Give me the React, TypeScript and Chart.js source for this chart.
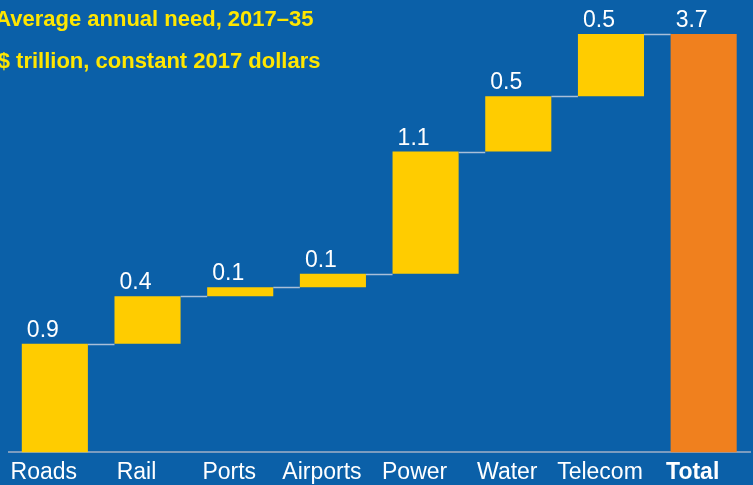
import React, { useEffect, useRef } from "react";
import { Chart, registerables } from "chart.js";

Chart.register(...registerables);

const categories = ["Roads", "Rail", "Ports", "Airports", "Power", "Water", "Telecom", "Total"];
const increments = [0.96, 0.42, 0.08, 0.12, 1.08, 0.49, 0.55];
const totalValue = 3.7;
const valueLabels = ["0.9", "0.4", "0.1", "0.1", "1.1", "0.5", "0.5", "3.7"];
const titleLines = ["Average annual need, 2017–35", "$ trillion, constant 2017 dollars"];

const BG = "#0B60A8";
const YELLOW = "#FFCC00";
const ORANGE = "#F0801E";
const TITLE_YELLOW = "#FFE600";
const FONT = "'Liberation Sans', Arial, sans-serif";

export default function App() {
  const ref = useRef<HTMLCanvasElement | null>(null);

  useEffect(() => {
    if (!ref.current) return;
    const floating: [number, number][] = [];
    let cum = 0;
    increments.forEach((v) => {
      floating.push([cum, cum + v]);
      cum += v;
    });
    floating.push([0, totalValue]);
    const ends = floating.map((f) => f[1]);

    const overlay = {
      id: "overlay",
      afterDatasetsDraw(chart: any) {
        const ctx = chart.ctx;
        const meta = chart.getDatasetMeta(0);
        const y = chart.scales.y;
        ctx.save();
        // connectors
        ctx.strokeStyle = "#A9BFD8";
        ctx.lineWidth = 1.5;
        for (let i = 0; i < meta.data.length - 1; i++) {
          const a = meta.data[i];
          const b = meta.data[i + 1];
          const py = Math.round(y.getPixelForValue(ends[i])) + 0.5;
          ctx.beginPath();
          ctx.moveTo(a.x + a.width / 2, py);
          ctx.lineTo(b.x - b.width / 2, py);
          ctx.stroke();
        }
        // value labels
        ctx.fillStyle = "#FFFFFF";
        ctx.font = `23px ${FONT}`;
        ctx.textAlign = "center";
        ctx.textBaseline = "alphabetic";
        meta.data.forEach((el: any, i: number) => {
          const top = y.getPixelForValue(ends[i]);
          ctx.fillText(valueLabels[i], el.x - 12, top - 7);
        });
        // titles
        ctx.fillStyle = TITLE_YELLOW;
        ctx.font = `bold 22px ${FONT}`;
        ctx.textAlign = "right";
        ctx.fillText(titleLines[0], 313.5, 26);
        ctx.fillText(titleLines[1], 320.5, 68);
        ctx.restore();
      },
    };

    const chart = new Chart(ref.current, {
      type: "bar",
      data: {
        labels: categories,
        datasets: [
          {
            data: floating as any,
            backgroundColor: categories.map((_, i) => (i === categories.length - 1 ? ORANGE : YELLOW)),
            borderWidth: 0,
            borderSkipped: false,
            barPercentage: 0.713,
            categoryPercentage: 1,
          },
        ],
      },
      options: {
        responsive: false,
        animation: false,
        layout: { padding: { left: 8.5, right: 3, top: 0, bottom: 2 } },
        plugins: { legend: { display: false }, tooltip: { enabled: false }, title: { display: false } },
        scales: {
          x: {
            grid: { display: false, drawTicks: false },
            border: { display: true, color: "#7C9CBF", width: 2 },
            ticks: {
              color: "#FFFFFF",
              autoSkip: false,
              maxRotation: 0,
              minRotation: 0,
              labelOffset: -11,
              padding: 6,
              font: (c: any) => ({
                family: FONT,
                size: 23,
                weight: c.index === categories.length - 1 ? "bold" : "normal",
              }),
            },
          },
          y: { display: false, min: 0, max: 4 },
        },
      },
      plugins: [overlay],
    });
    return () => chart.destroy();
  }, []);

  return (
    <div style={{ position: "fixed", left: 0, top: 0, width: 753, height: 485, background: BG, overflow: "hidden" }}>
      <canvas ref={ref} width={753} height={494} style={{ display: "block", width: 753, height: 494 }} />
    </div>
  );
}
